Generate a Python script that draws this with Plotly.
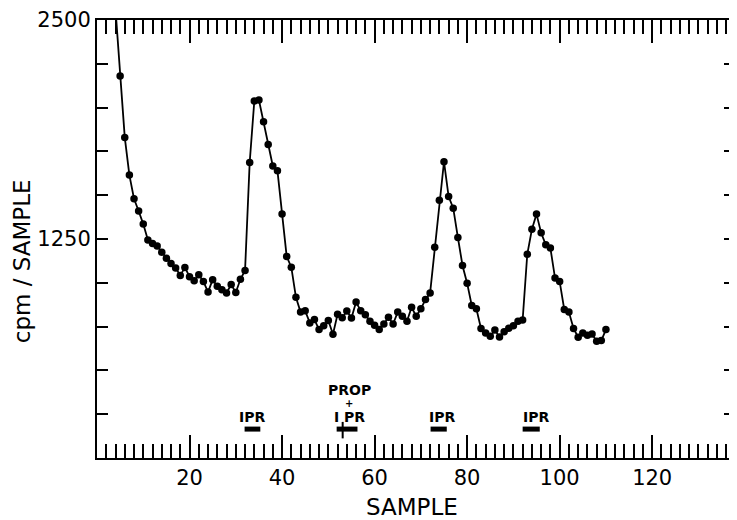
import plotly.graph_objects as go

# ---- data ----
samples = list(range(4, 111))
cpm = [
    2560, 2180, 1830, 1615, 1480, 1410, 1335, 1245, 1225, 1210,   # 4-13
    1175, 1140, 1110, 1085, 1042, 1088, 1035, 1012, 1046, 1008,   # 14-23
    947, 1018, 980, 961, 942, 990, 945, 1020, 1070, 1687,         # 24-33
    2037, 2043, 1919, 1790, 1667, 1640, 1393, 1150, 1089, 917,    # 34-43
    833, 840, 771, 790, 733, 755, 785, 706, 820, 801,             # 44-53
    839, 799, 890, 841, 818, 780, 757, 733, 765, 803,             # 54-63
    765, 833, 809, 780, 860, 809, 852, 904, 942, 1203,            # 64-73
    1471, 1691, 1492, 1426, 1259, 1099, 998, 871, 852, 739,       # 74-83
    714, 695, 730, 690, 721, 740, 755, 780, 788, 1163,            # 84-93
    1305, 1392, 1285, 1217, 1198, 1027, 1008, 847, 833, 739,      # 94-103
    689, 714, 700, 708, 666, 670, 733,                            # 104-110
]

# drug infusion periods (sample units)
ipr_start = [31.9, 51.8, 72.1, 92.0]
ipr_end = [35.3, 56.3, 75.6, 95.7]
ipr_label_x = [33.6, 54.5, 74.5, 94.8]
ipr_labels = ["IPR", "I PR", "IPR", "IPR"]
prop_x = 53.1
prop_label = "PROP"

x_ticks = list(range(0, 140, 10))
x_ticktext = [str(v) if (v % 20 == 0 and v > 0) else "" for v in x_ticks]
x_minor = list(range(0, 140, 2))
y_ticks = list(range(0, 2501, 250))
y_ticktext = [str(v) if v in (1250, 2500) else "" for v in y_ticks]

# levels (cpm units) for the bar annotations
bar_level = 165
label_level = 235
plus_level = 310
prop_level = 390
cross_lo, cross_hi = 112, 206

FONT = "DejaVu Sans"
PAGE_PAD = 8  # default body margin of the html page

fig = go.Figure()
fig.add_trace(go.Scatter(
    x=samples, y=cpm, mode="lines+markers",
    line=dict(color="black", width=1.8),
    marker=dict(color="black", size=7.5),
    showlegend=False, hoverinfo="skip",
))

for s, e in zip(ipr_start, ipr_end):
    fig.add_trace(go.Scatter(
        x=[s, e], y=[bar_level, bar_level], mode="lines",
        line=dict(color="black", width=5),
        showlegend=False, hoverinfo="skip",
    ))

fig.add_trace(go.Scatter(
    x=[prop_x, prop_x], y=[cross_lo, cross_hi], mode="lines",
    line=dict(color="black", width=2),
    showlegend=False, hoverinfo="skip",
))

lab_font = dict(family=FONT, size=14, color="black", weight="bold")
annotations = []
for lx, txt in zip(ipr_label_x, ipr_labels):
    annotations.append(dict(
        x=lx, y=label_level, xref="x", yref="y", text=txt, showarrow=False,
        font=lab_font, borderpad=0,
    ))
annotations.append(dict(
    x=ipr_label_x[1], y=plus_level, xref="x", yref="y", text="+", showarrow=False,
    font=dict(family=FONT, size=10, color="black", weight="bold"), borderpad=0,
))
annotations.append(dict(
    x=ipr_label_x[1], y=prop_level, xref="x", yref="y", text=prop_label, showarrow=False,
    font=lab_font, borderpad=0,
))
# axis titles
annotations.append(dict(
    x=-0.117, y=0.45, xref="paper", yref="paper", text="cpm / SAMPLE",
    textangle=-90, showarrow=False, xanchor="center", yanchor="middle",
    font=dict(family=FONT, size=23, color="black"),
))
annotations.append(dict(
    x=0.494, y=-0.111, xref="paper", yref="paper", text="SAMPLE",
    showarrow=False, xanchor="center", yanchor="middle",
    font=dict(family=FONT, size=23, color="black"), borderpad=0,
))

fig.update_layout(
    width=737 - PAGE_PAD, height=520 - PAGE_PAD,
    margin=dict(l=97 - PAGE_PAD, r=0, t=18 - PAGE_PAD, b=62),
    paper_bgcolor="white", plot_bgcolor="white",
    annotations=annotations,
    xaxis=dict(
        range=[0, 137.9], showgrid=False, zeroline=False,
        showline=True, linecolor="black", linewidth=2, mirror="ticks",
        ticks="inside", ticklen=23, tickwidth=2, tickcolor="black",
        tickmode="array", tickvals=x_ticks, ticktext=x_ticktext,
        minor=dict(ticks="inside", ticklen=14, tickwidth=1.5, tickcolor="black",
                   tickmode="array", tickvals=x_minor, showgrid=False),
        tickfont=dict(family=FONT, size=21, color="black"),
    ),
    yaxis=dict(
        range=[0, 2500], showgrid=False, zeroline=False,
        showline=True, linecolor="black", linewidth=2, mirror="ticks",
        ticks="inside", ticklen=11, tickwidth=2, tickcolor="black",
        tickmode="array", tickvals=y_ticks, ticktext=y_ticktext,
        tickfont=dict(family=FONT, size=21, color="black"),
        ticklabeloverflow="allow",
    ),
)

fig.write_html("out.html")
